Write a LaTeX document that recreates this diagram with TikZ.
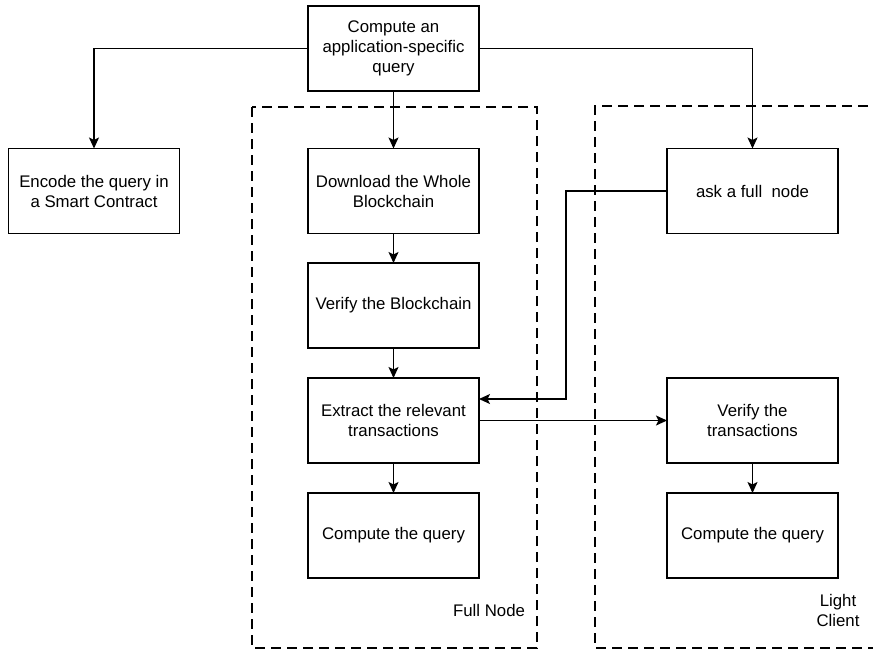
\documentclass[tikz,border=0pt]{standalone}
\usepackage{fontspec}
\setmainfont{Liberation Sans}
\usetikzlibrary{arrows.meta}

\begin{document}
\begin{tikzpicture}[x=1pt,y=-1pt,line width=1.4pt,
	box/.style={draw,minimum width=171pt,minimum height=85pt,align=center,outer sep=0pt,font=\fontsize{16.8}{20}\selectfont},
	group/.style={draw,dash pattern=on 10pt off 6pt},
	arr/.style={-{Stealth[length=11pt,width=10pt,inset=2.5pt]}}]
	\useasboundingbox (0,0) rectangle (873,649);
	\draw[group] (252,107) rectangle (537,648);
	\draw[group] (900,106)--(595,106)--(595,648)--(900,648);
	\node[font=\fontsize{16.8}{20}\selectfont,anchor=east] (fulllbl) at (529,610){Full Node};
	\node[font=\fontsize{16.8}{20}\selectfont,align=center] (lightlbl) at (838,610){Light\\Client};
	
	\node[box] (query) at (393.5,48.5){Compute an\\application-specific\\query};
	\node[box] (encode) at (94,191){Encode the query in\\a Smart Contract};
	\node[box] (download) at (393.5,191){Download the Whole\\Blockchain};
	\node[box] (verifyb) at (393.5,305.5){Verify the Blockchain};
	\node[box] (extract) at (393.5,420.5){Extract the relevant\\transactions};
	\node[box] (computef) at (393.5,535.5){Compute the query};
	\node[box] (ask) at (752.5,191){ask a full~ node};
	\node[box] (verifyt) at (752.5,420.5){Verify the\\transactions};
	\node[box] (computel) at (752.5,535.5){Compute the query};
	
	\draw[arr] (query.west) -| (encode.north);
	\draw[arr] (query.east) -| (ask.north);
	\draw[arr] (query) -- (download);
	\draw[arr] (download) -- (verifyb);
	\draw[arr] (verifyb) -- (extract);
	\draw[arr] (extract) -- (computef);
	\draw[arr] (ask.west) -- (566,191) |- ([yshift=21.5pt]extract.east);
	\draw[arr] (extract.east) -- (verifyt.west);
	\draw[arr] (verifyt) -- (computel);
\end{tikzpicture}
\end{document}
